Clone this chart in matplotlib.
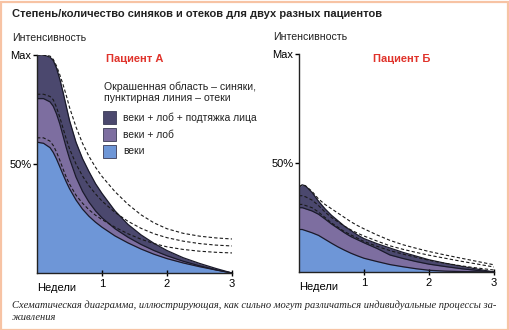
import matplotlib
matplotlib.use('Agg')
import matplotlib.pyplot as plt
from matplotlib.patches import Rectangle

plt.rcParams['font.family'] = ['Liberation Sans', 'DejaVu Sans']

W, H = 510, 330

# weeks and intensity (% of max) for patient A
weeks_a = [0, 0.1, 0.2, 0.25, 0.3, 0.35, 0.4, 0.45, 0.5, 0.6, 0.7, 0.8, 0.9,
           1.0, 1.2, 1.4, 1.6, 1.8, 2.0, 2.25, 2.5, 2.75, 3.0]
a_all = [100, 100, 99, 97.5, 94, 89, 83, 76.5, 70, 60, 52.5, 46.5, 41,
         36.5, 28.5, 22.3, 17.5, 13.6, 10.3, 7, 4.4, 2.1, 0]
a_mid = [80, 80, 78.5, 76.5, 73, 68.5, 63, 57.5, 52.5, 44, 37.5, 32.5, 28.5,
         25.3, 20.3, 16.4, 13.1, 10.3, 7.9, 5.4, 3.3, 1.5, 0]
a_low = [60, 59.5, 57.5, 55.3, 52.3, 48.8, 45.2, 41.8, 38.7, 33.5, 29.3, 26, 23.3,
         21, 17, 13.8, 11, 8.6, 6.6, 4.6, 2.9, 1.4, 0]
a_swell_all = [100, 100, 99.5, 98, 95, 91, 86.5, 81.5, 76, 67, 59.5, 53.5, 48.5,
               44.3, 37.3, 31.5, 26.7, 23, 20.3, 18.2, 16.9, 16.1, 15.6]
a_swell_mid = [82, 82, 81, 79.5, 76, 71.5, 66.5, 61.5, 57, 50, 44.5, 40, 36.3,
               33, 27.8, 23.7, 20.5, 18, 16.2, 14.6, 13.5, 12.8, 12.4]
a_swell_low = [62, 62, 60.5, 58.5, 55.5, 51.8, 47.8, 44, 40.8, 35.7, 32, 29, 26.5,
               24.5, 21, 18, 15.5, 13.5, 12, 10.8, 10, 9.5, 9.2]

# weeks and intensity for patient B
weeks_b = [0, 0.05, 0.1, 0.2, 0.3, 0.4, 0.5, 0.6, 0.7, 0.8, 0.9, 1.0,
           1.2, 1.4, 1.6, 1.8, 2.0, 2.25, 2.5, 2.75, 3.0]
b_all = [39, 40, 39.5, 36.5, 32.5, 29, 26, 23.5, 21, 19, 17, 15.3,
         13, 11, 9, 7.3, 5.6, 4, 2.6, 1.3, 0]
b_mid = [29.5, 29.5, 29, 28, 26.5, 24.3, 22, 20, 18, 16.2, 14.8, 13.4,
         10.8, 7.8, 6.2, 4.8, 3.6, 2.5, 1.5, 0.7, 0]
b_low = [19.5, 19.5, 19, 18, 16.8, 15, 13.2, 11.5, 10, 8.6, 7.4, 6.3,
         4.8, 3.4, 2.4, 1.5, 0.8, 0.4, 0.2, 0.1, 0]
b_swell_all = [39, 40, 39.5, 37, 33.5, 31, 29, 27, 25, 23, 21.3, 19.8,
               17, 14.5, 12.5, 10.9, 9.4, 7.8, 6.3, 4.8, 3.3]
b_swell_mid = [35, 35, 34.5, 33, 30.5, 27.5, 25, 23, 21, 19.3, 17.8, 16.5,
               14.2, 12, 10.4, 9, 7.7, 6.3, 4.9, 3.6, 2.3]
b_swell_low = [31, 31, 30.5, 29.5, 27.5, 25, 22.5, 20.5, 18.5, 17, 15.5, 14,
               11.8, 9.8, 8.2, 6.8, 5.4, 4, 2.8, 1.8, 0.9]

labels = ['веки + лоб + подтяжка лица', 'веки + лоб', 'веки']
colors = ['#4b486e', '#7d6ea0', '#6e96d7']
week_ticks = [1, 2, 3]
y_ticks = [50, 100]
y_ticklabels = ['50%', 'Max']

fig = plt.figure(figsize=(W / 100, H / 100), dpi=100)


def px_axes(x0, x1, ytop, ybot):
    return fig.add_axes([x0 / W, (H - ybot) / H, (x1 - x0) / W, (ybot - ytop) / H])


def ftext(x, y, s, **kw):
    kw.setdefault('va', 'center')
    fig.text(x / W, 1 - y / H, s, **kw)


def draw_panel(ax, weeks, bands, swells):
    for vals, c in zip(bands, colors):
        ax.fill_between(weeks, 0, vals, color=c, lw=0)
    for vals in bands:
        ax.plot(weeks, vals, color='#1a1a2a', lw=0.9)
    for vals in swells:
        ax.plot(weeks, vals, color='#1a1a1a', lw=0.8, ls=(0, (3, 2)))
    ax.set_xlim(0, 3)
    ax.set_ylim(0, 100)
    for s in ('top', 'right'):
        ax.spines[s].set_visible(False)
    for s in ('left', 'bottom'):
        ax.spines[s].set_linewidth(1)
        ax.spines[s].set_color('#222222')
    ax.set_xticks(week_ticks)
    ax.set_yticks(y_ticks)
    ax.set_yticklabels(y_ticklabels)
    ax.tick_params(axis='x', direction='inout', length=5, width=1, pad=2, labelsize=8)
    ax.tick_params(axis='y', direction='out', length=3, width=1, pad=1, labelsize=8)
    ax.text(0, -0.045, 'Недели', transform=ax.transAxes, ha='left', va='top', fontsize=8)
    ax.patch.set_alpha(0)


axA = px_axes(37, 232, 55, 273)
draw_panel(axA, weeks_a, [a_all, a_mid, a_low], [a_swell_all, a_swell_mid, a_swell_low])
axB = px_axes(299, 494, 54, 272)
draw_panel(axB, weeks_b, [b_all, b_mid, b_low], [b_swell_all, b_swell_mid, b_swell_low])

ftext(12, 14, 'Степень/количество синяков и отеков для двух разных пациентов',
      fontsize=8, fontweight='bold', color='#222222')
ftext(12, 38, 'Интенсивность', fontsize=7.6, color='#222222')
ftext(273, 37, 'Интенсивность', fontsize=7.6, color='#222222')
ftext(106, 59, 'Пациент А', fontsize=8, fontweight='bold', color='#e0332b')
ftext(373, 59, 'Пациент Б', fontsize=8, fontweight='bold', color='#e0332b')
ftext(104, 87, 'Окрашенная область – синяки,', fontsize=7.6, color='#222222')
ftext(104, 98, 'пунктирная линия – отеки', fontsize=7.6, color='#222222')

# legend swatches
for i, (lab, c) in enumerate(zip(labels, colors)):
    y = 111 + i * 17
    fig.patches.append(Rectangle((103 / W, 1 - (y + 13) / H), 13 / W, 13 / H,
                                 transform=fig.transFigure, facecolor=c,
                                 edgecolor='#3a3a55', lw=0.6))
    ftext(123, y + 6.5, lab, fontsize=7.4, color='#222222')

ftext(12, 305, 'Схематическая диаграмма, иллюстрирующая, как сильно могут '
      'различаться индивидуальные процессы за-',
      fontsize=7.6, style='italic', family=['Liberation Serif', 'DejaVu Serif'],
      color='#222222')
ftext(12, 318, 'живления', fontsize=7.6, style='italic',
      family=['Liberation Serif', 'DejaVu Serif'], color='#222222')

# peach frame around the page
fig.patches.append(Rectangle((0.5 / W, 0.5 / H), (W - 2) / W, (H - 2) / H,
                             transform=fig.transFigure, fill=False,
                             edgecolor='#f7c3a4', lw=1.6))

fig.savefig('out.png', dpi=100)
